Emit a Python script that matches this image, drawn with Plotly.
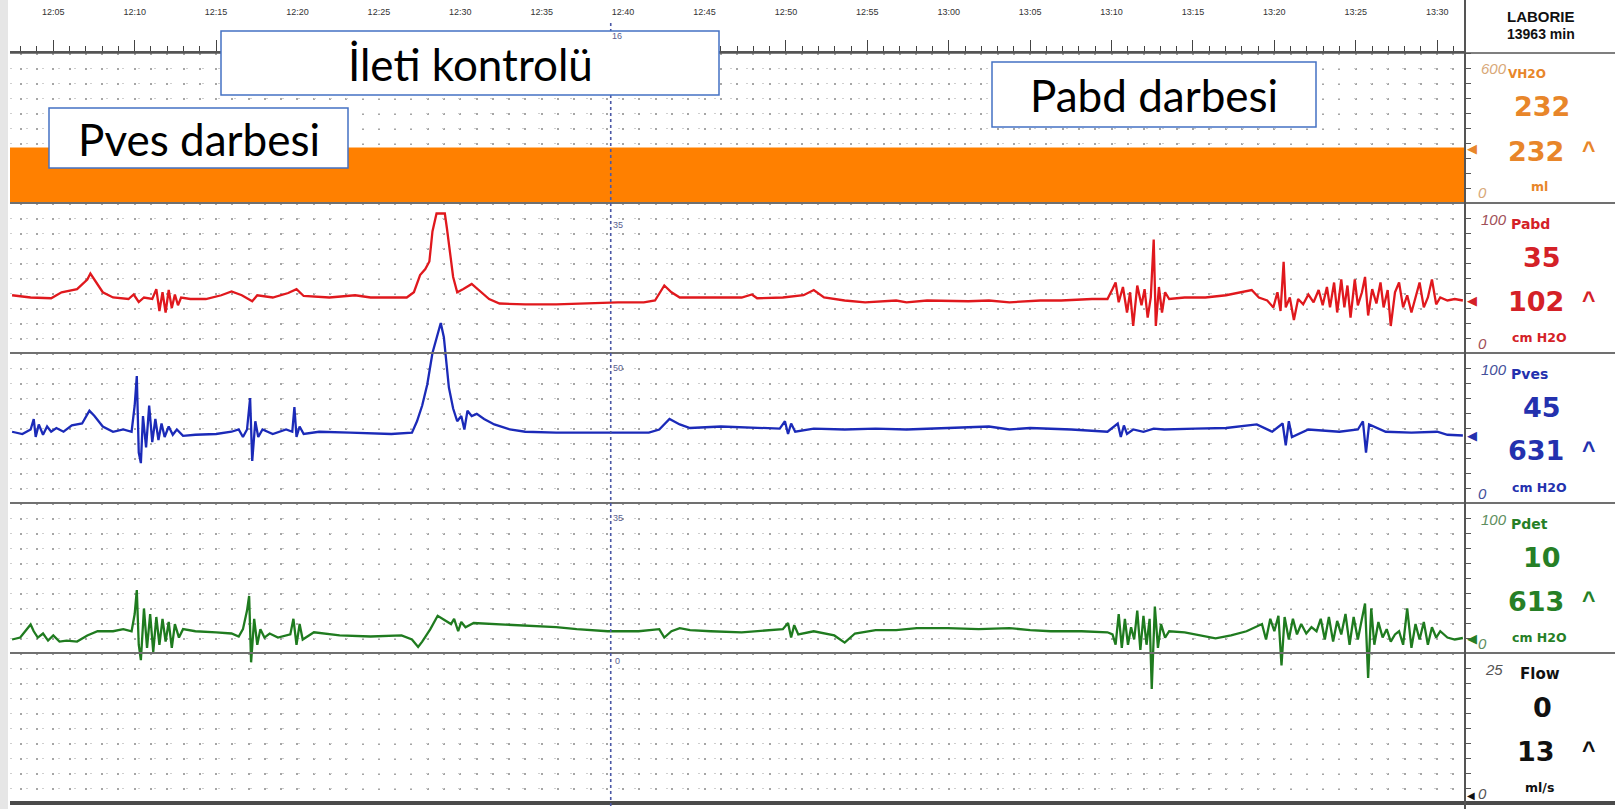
import plotly.graph_objects as go

# ---------------- data ----------------
tick_minutes = [5, 10, 15, 20, 25, 30, 35, 40, 45, 50, 55, 60, 65, 70, 75, 80, 85, 90]
tick_labels = ["12:05", "12:10", "12:15", "12:20", "12:25", "12:30", "12:35", "12:40", "12:45",
               "12:50", "12:55", "13:00", "13:05", "13:10", "13:15", "13:20", "13:25", "13:30"]

# time in minutes after 12:00, values in native units
vh2o_pts = [(2.3, 220), (91.8, 220)]          # ml
flow_pts = [(2.3, 0), (91.8, 0)]              # ml/s

pabd_pts = [(2.47, 38.5), (3.61, 37), (4.87, 36.5), (5.51, 40.5), (6.46, 42.6), (7.09, 49), (7.28, 53), (7.53, 49),
            (8.04, 40.5), (8.67, 37), (9.62, 36), (9.94, 39), (10.25, 34), (10.57, 37), (11.08, 36), (11.33, 42.6),
            (11.52, 28), (11.71, 40.5), (11.90, 27), (12.09, 42), (12.28, 30), (12.47, 39), (12.66, 31.8), (12.85, 37),
            (13.42, 36), (14.37, 36), (15.32, 38.5), (15.95, 41), (16.58, 38.5), (17.22, 34.5), (17.53, 38.5),
            (18.48, 37), (19.43, 40), (19.94, 42.6), (20.38, 38), (21.96, 37), (23.54, 38.5), (24.49, 37),
            (26.71, 37), (27.15, 40.5), (27.53, 52), (27.85, 56), (28.10, 61), (28.29, 81), (28.42, 88),
            (28.54, 93), (28.80, 93), (29.05, 93), (29.18, 83), (29.37, 67.6), (29.56, 50.7), (29.81, 40.5),
            (30.19, 42.6), (30.70, 46), (31.14, 42), (31.77, 36), (32.41, 33), (33.99, 32.4), (35.89, 32.4),
            (37.78, 33), (39.68, 33.8), (41.27, 33.8), (41.96, 35), (42.53, 45), (42.97, 40.5), (43.48, 37),
            (45.38, 37), (47.28, 37), (47.91, 39), (48.23, 36.5), (49.81, 37), (51.08, 38.5), (51.71, 42),
            (52.34, 37), (53.61, 35), (54.87, 33.8), (56.77, 35), (57.41, 33.8), (58.67, 35), (61.20, 34.5),
            (62.47, 35), (63.73, 33.8), (65.63, 35), (66.90, 35), (68.80, 36), (69.75, 36), (70.06, 42.6),
            (70.25, 47), (70.44, 33.8), (70.70, 44), (70.95, 27), (71.14, 40.5), (71.33, 18), (71.58, 45),
            (71.84, 31.8), (72.03, 42.6), (72.22, 23.6), (72.41, 37), (72.59, 75.7), (72.72, 18), (72.91, 44),
            (73.10, 27), (73.29, 40.5), (73.54, 36), (74.49, 37), (75.76, 37), (77.03, 38.5), (77.97, 40.5),
            (78.61, 42), (79.05, 37), (79.56, 35), (79.94, 30.4), (80.19, 40.5), (80.38, 28), (80.57, 60.8),
            (80.70, 30.4), (80.95, 37), (81.20, 22), (81.46, 36), (81.77, 32.4), (82.09, 39), (82.41, 33.8),
            (82.72, 42), (82.97, 31.8), (83.23, 44), (83.42, 30.4), (83.67, 47), (83.86, 27), (84.11, 49),
            (84.30, 30.4), (84.49, 45), (84.68, 23.6), (84.94, 49), (85.13, 31.8), (85.38, 40.5), (85.57, 50.7),
            (85.76, 25), (86.01, 42.6), (86.27, 33), (86.52, 47), (86.71, 30.4), (86.96, 42), (87.15, 18),
            (87.41, 40.5), (87.66, 47), (87.91, 30.4), (88.16, 38.5), (88.42, 27), (88.67, 37), (88.92, 47),
            (89.18, 30.4), (89.43, 37), (89.68, 49), (89.94, 32.4), (90.19, 37), (90.63, 35), (91.08, 36),
            (91.58, 35)]

pves_pts = [(2.47, 47.5), (3.10, 46), (3.61, 49), (3.80, 56), (3.92, 44), (4.11, 52.4), (4.37, 45.5), (4.62, 51),
            (4.87, 47.5), (5.19, 50), (5.63, 47.5), (6.14, 51.7), (6.77, 53), (7.22, 61.5), (7.53, 58), (8.04, 51),
            (8.67, 47.5), (9.30, 49), (9.81, 47.5), (10.00, 65), (10.13, 84.6), (10.25, 33.6), (10.38, 26.6),
            (10.51, 58), (10.70, 37), (10.89, 65), (11.08, 40.6), (11.27, 56), (11.46, 42), (11.65, 53),
            (11.84, 44), (12.09, 51), (12.34, 45.5), (12.59, 49), (12.97, 44.8), (13.73, 45.5), (15.00, 46),
            (15.95, 47.5), (16.39, 49), (16.65, 44), (16.90, 49), (17.09, 70), (17.22, 28), (17.41, 54.5),
            (17.59, 44), (17.85, 49), (18.48, 46), (19.30, 49), (19.68, 47.5), (19.81, 64), (19.94, 44),
            (20.13, 51), (20.38, 46), (21.33, 47.5), (23.23, 46.9), (25.76, 46), (27.03, 46.9), (27.34, 54.5),
            (27.66, 65), (27.97, 79), (28.29, 100), (28.54, 110.5), (28.80, 120), (28.99, 110.5), (29.11, 96.5),
            (29.30, 77), (29.56, 63), (29.81, 54.5), (30.06, 58), (30.25, 49), (30.44, 61.5), (30.70, 58),
            (31.01, 59.4), (31.46, 56), (32.09, 52.4), (33.04, 49), (33.99, 47.5), (35.89, 46.9), (37.78, 46.9),
            (39.68, 46.9), (41.58, 46.9), (42.22, 49), (42.85, 56), (43.48, 52.4), (44.11, 50), (46.01, 51),
            (48.54, 50), (49.62, 49.6), (49.94, 54.5), (50.13, 46), (50.32, 53), (50.57, 47.5), (51.71, 49.6),
            (53.61, 49), (55.51, 49.6), (57.41, 49), (59.94, 50), (62.47, 51), (63.73, 49), (65.00, 50),
            (67.53, 49), (69.75, 47.5), (70.38, 53), (70.57, 44), (70.76, 51.7), (70.95, 46), (71.33, 49),
            (71.96, 47.5), (72.59, 49.6), (73.23, 49), (75.13, 49.6), (77.03, 50), (78.92, 52.4), (79.87, 47.5),
            (80.51, 53), (80.70, 38.5), (80.89, 54.5), (81.08, 44), (82.09, 49), (83.99, 47.5), (85.13, 49),
            (85.44, 54.5), (85.63, 33.6), (85.82, 52.4), (86.84, 47.5), (88.42, 46.9), (90.00, 47.5),
            (90.63, 45.5), (91.58, 45)]

pdet_pts = [(2.47, 9), (2.97, 10.3), (3.61, 19), (3.80, 14.5), (4.05, 10.3), (4.37, 13), (4.68, 8.3), (5.00, 11.7),
            (5.38, 7.6), (5.82, 8.3), (6.46, 7.6), (7.09, 11.7), (7.72, 14.5), (8.67, 14.5), (9.30, 15.9),
            (9.81, 14.5), (10.00, 26), (10.13, 42), (10.25, 5.5), (10.38, -4.8), (10.57, 29.7), (10.76, 3.4),
            (10.95, 26), (11.14, 0.7), (11.33, 24), (11.52, 5.5), (11.71, 22.8), (11.90, 7.6), (12.09, 20.7),
            (12.28, 3.4), (12.47, 19.3), (12.72, 10.3), (12.97, 15.9), (13.73, 14.5), (15.00, 13.8), (15.95, 13),
            (16.39, 11), (16.65, 15.9), (16.90, 28.3), (17.03, 38), (17.15, -6.2), (17.34, 22.8), (17.53, 5.5),
            (17.72, 15.9), (17.97, 10.3), (18.29, 13), (18.80, 10.3), (19.56, 12.4), (19.75, 22.8), (19.94, 5.5),
            (20.13, 19.3), (20.32, 9), (21.01, 13.8), (22.59, 11.7), (24.49, 11), (26.39, 11.7), (27.03, 9),
            (27.41, 4), (27.66, 7.6), (28.16, 15.9), (28.61, 24.8), (28.92, 22.8), (29.18, 20.7), (29.43, 19.3),
            (29.62, 22.8), (29.87, 14.5), (30.06, 20.7), (30.32, 17.2), (30.82, 20), (32.09, 19.3), (33.35, 18.6),
            (34.62, 17.9), (35.89, 17.2), (37.15, 15.9), (39.05, 14.5), (40.95, 14.5), (42.22, 15.9), (42.53, 10.3),
            (42.97, 14.5), (43.48, 16.6), (44.11, 15.2), (45.38, 14.5), (47.28, 13.8), (49.81, 15.9), (50.13, 20),
            (50.32, 10.3), (50.51, 18.6), (50.76, 12.4), (51.71, 14.5), (52.97, 11.7), (53.61, 6.9), (54.24, 13),
            (55.51, 15.2), (56.77, 15.2), (58.04, 16.6), (59.94, 16.6), (61.84, 15.9), (63.73, 16.6), (65.00, 15.2),
            (66.27, 14.5), (68.16, 14.5), (69.75, 13.8), (70.06, 12.4), (70.25, 5.5), (70.44, 26), (70.63, 3.4),
            (70.82, 22.8), (71.01, 5.5), (71.20, 17.2), (71.39, 9), (71.58, 28.3), (71.77, 2), (71.96, 24.8),
            (72.15, 5.5), (72.34, 22.8), (72.47, -24), (72.66, 31), (72.85, 3.4), (73.04, 19.3), (73.29, 10.3),
            (73.54, 14.5), (74.49, 13.8), (75.76, 11), (76.39, 9.7), (77.34, 11.7), (78.29, 14.5), (79.24, 19.3),
            (79.49, 9), (79.75, 22.8), (80.00, 14.5), (80.25, 24.8), (80.44, -8.3), (80.63, 24), (80.89, 9),
            (81.14, 22.8), (81.39, 12.4), (81.65, 19.3), (81.96, 13), (82.28, 17.2), (82.59, 14.5), (82.85, 22.8),
            (83.10, 9), (83.35, 24), (83.61, 7.6), (83.86, 21.4), (84.11, 12.4), (84.37, 26), (84.62, 5.5),
            (84.87, 24), (85.13, 9), (85.38, 22.8), (85.57, 33), (85.76, -16.6), (85.95, 29.7), (86.14, 5.5),
            (86.39, 20.7), (86.65, 10.3), (86.90, 15.9), (87.15, 7.6), (87.41, 12.4), (87.66, 14.5), (87.91, 5.5),
            (88.16, 29.7), (88.42, 3.4), (88.67, 19.3), (88.92, 9), (89.18, 20.7), (89.43, 5.5), (89.68, 17.2),
            (89.94, 10.3), (90.19, 14.5), (90.63, 10.3), (91.08, 9), (91.58, 10)]

event_time = 39.24
event_labels = ["35", "50", "35", "0"]

channels = ["VH2O", "Pabd", "Pves", "Pdet", "Flow"]
scale_max = ["600", "100", "100", "100", "25"]
current_vals = [232, 35, 45, 10, 0]
max_vals = [232, 102, 631, 613, 13]
units = ["ml", "cm H2O", "cm H2O", "cm H2O", "ml/s"]

notes = ["İleti kontrolü", "Pves darbesi", "Pabd darbesi"]

# ---------------- styling / layout ----------------
W, H = 1615, 809
L, R, T, B = 10, 150, 53, 6
PW, PH = W - L - R, H - T - B


def px(X):
    return (X - L) / PW


def py(Y):
    return (H - B - Y) / PH


X0, X1 = 2.342, 91.71
GRID = "#a6a6a6"
DOTS = "2px,13px"

# each channel drawn in its own 100-unit band of one shared vertical scale
bands = {"VH2O": (600, 400), "Pabd": (100, 300), "Pves": (100, 200), "Pdet": (100, 100), "Flow": (25, 0)}


def to_band(ch, v):
    full, base = bands[ch]
    return base + v * 100.0 / full


ch_colors = ["#E8862A", "#D42127", "#2431AE", "#267F26", "#111111"]
scale_colors = ["#D8A878", "#A05058", "#44509A", "#5E8E5E", "#555555"]

fig = go.Figure()


def add(ch, pts, color, width, **kw):
    fig.add_trace(go.Scatter(x=[p[0] for p in pts], y=[to_band(ch, p[1]) for p in pts], mode="lines",
                             line=dict(color=color, width=width), hoverinfo="skip", **kw))


# VH2O: filled from its zero line
add("VH2O", [(p[0], 0) for p in vh2o_pts], "rgba(0,0,0,0)", 0)
add("VH2O", vh2o_pts, "#FF8000", 1, fill="tonexty", fillcolor="#FF8000")
add("Flow", flow_pts, "#4a4a4a", 4)
add("Pdet", pdet_pts, "#1F7B1F", 2.3)
add("Pves", pves_pts, "#1B2AB8", 2.3)
add("Pabd", pabd_pts, "#E0181D", 2.3)

series_last = [vh2o_pts[-1][1], pabd_pts[-1][1], pves_pts[-1][1], pdet_pts[-1][1], flow_pts[-1][1]]

shapes = []
annotations = []


def text(s, X, Y, size, color, family="DejaVu Sans, Verdana", xanchor="center"):
    annotations.append(dict(text=s, x=px(X), y=py(Y), xref="paper", yref="paper", showarrow=False,
                            xanchor=xanchor, yanchor="middle", font=dict(family=family, size=size, color=color)))


# left grey strip
shapes.append(dict(type="rect", xref="paper", yref="paper", x0=px(0), x1=px(8), y0=py(H), y1=py(0),
                   fillcolor="#e6e6e6", line=dict(width=0), layer="below"))
# panel separators (extend into right panel)
for k, (col, wdt) in enumerate([("#4a4a4a", 4), ("#707070", 2), ("#707070", 2), ("#707070", 2),
                                ("#707070", 2), ("#555555", 1.5)]):
    yy = k * 0.2
    shapes.append(dict(type="line", xref="paper", yref="paper", x0=px(L), x1=px(W), y0=yy, y1=yy,
                       line=dict(color=col, width=wdt), layer="above"))
# right divider
shapes.append(dict(type="line", xref="paper", yref="paper", x0=1, x1=1, y0=py(H), y1=py(0),
                   line=dict(color="#555555", width=2), layer="above"))
# event cursor
shapes.append(dict(type="line", xref="x", yref="paper", x0=event_time, x1=event_time, y0=py(806), y1=py(22),
                   line=dict(color="#4a58a6", width=1.6, dash="dot"), layer="above"))
annotations.append(dict(text="16", x=event_time, y=py(29), xref="x", yref="paper", showarrow=False,
                        xshift=6, font=dict(family="Liberation Sans", size=9, color="#5a6090")))
for i, lab in enumerate(event_labels):
    annotations.append(dict(text=lab, x=event_time, y=py(218 + 150 * i), xref="x", yref="paper",
                            showarrow=False, xshift=7, font=dict(family="Liberation Sans", size=9, color="#5a6090")))

# note boxes
boxes = [(221, 719, 31, 95), (49, 348, 108, 168), (992, 1316, 62, 127)]
for note, (bx0, bx1, by0, by1) in zip(notes, boxes):
    shapes.append(dict(type="rect", xref="paper", yref="paper", x0=px(bx0), x1=px(bx1), y0=py(by1), y1=py(by0),
                       fillcolor="white", line=dict(color="#4472C4", width=1.5), layer="above"))
    text(note, (bx0 + bx1) / 2, (by0 + by1) / 2 + 1, 44, "#000000", family="Lato, Open Sans, sans-serif")

# right panel
text("<b>LABORIE</b>", 1541, 16, 15, "#111111", family="Liberation Sans, Arial")
text("<b>13963 min</b>", 1541, 34, 14, "#111111", family="Liberation Sans, Arial")
panel_tops = [53, 203, 353, 503, 653]
name_x = [1506, 1509, 1509, 1509, 1518]
name_size = [12, 14, 14, 14, 15]
for i, ch in enumerate(channels):
    top = panel_tops[i]
    c = ch_colors[i]
    text(f"<i>{scale_max[i]}</i>", 1494, top + 16, 15, scale_colors[i], family="Liberation Sans, Arial")
    text(f"<b>{ch}</b>", name_x[i], top + 21, name_size[i], c, xanchor="left")
    text(f"<b>{current_vals[i]}</b>", 1542, top + 54, 27, c)
    text(f"<b>{max_vals[i]}</b>", 1536, top + 98, 27, c)
    text("<b>^</b>", 1589, top + 97, 23, c, family="Liberation Sans, Arial")
    text(f"<b>{units[i]}</b>", 1539, top + 134, 12.5, c)
    text("<i>0</i>", 1482, top + 140, 15, scale_colors[i], family="Liberation Sans, Arial")
    annotations.append(dict(text="◀", xref="paper", x=px(1465), xanchor="left", yref="y",
                            y=to_band(ch, series_last[i]), yanchor="middle" if i < 4 else "bottom",
                            showarrow=False, font=dict(family="DejaVu Sans", size=13 if i < 4 else 10, color=c)))

minor_vals = [m for m in range(3, 92) if m % 5 != 0]

fig.update_layout(
    width=W, height=H, margin=dict(l=L, r=R, t=T, b=B, autoexpand=False),
    paper_bgcolor="white", plot_bgcolor="white", showlegend=False,
    xaxis=dict(range=[X0, X1], side="top", tickmode="array", tickvals=tick_minutes, ticktext=tick_labels,
               ticks="outside", ticklen=11, tickwidth=1.3, tickcolor="#444", automargin=False,
               tickfont=dict(family="Liberation Sans, Arial", size=9, color="#333"), ticklabelstandoff=22,
               showline=True, linecolor="#555", linewidth=1.5, showgrid=True, gridcolor=GRID, gridwidth=1.6,
               griddash=DOTS, zeroline=False, fixedrange=True,
               minor=dict(tickmode="array", tickvals=minor_vals, ticks="outside", ticklen=5, tickwidth=1.2,
                          tickcolor="#444", showgrid=True, gridcolor=GRID, gridwidth=1.6, griddash=DOTS)),
    yaxis=dict(range=[0, 500], side="right", dtick=10, tick0=0, showgrid=True, automargin=False,
               gridcolor="#cfcfcf", gridwidth=1, griddash="2px,14px", ticks="outside", ticklen=5,
               tickcolor="#555", showticklabels=False, zeroline=False, showline=False, fixedrange=True),
    shapes=shapes, annotations=annotations,
)

fig.write_html("out.html", config={"displayModeBar": False},
               post_script="document.body.style.margin='0';document.body.style.overflow='hidden';")
